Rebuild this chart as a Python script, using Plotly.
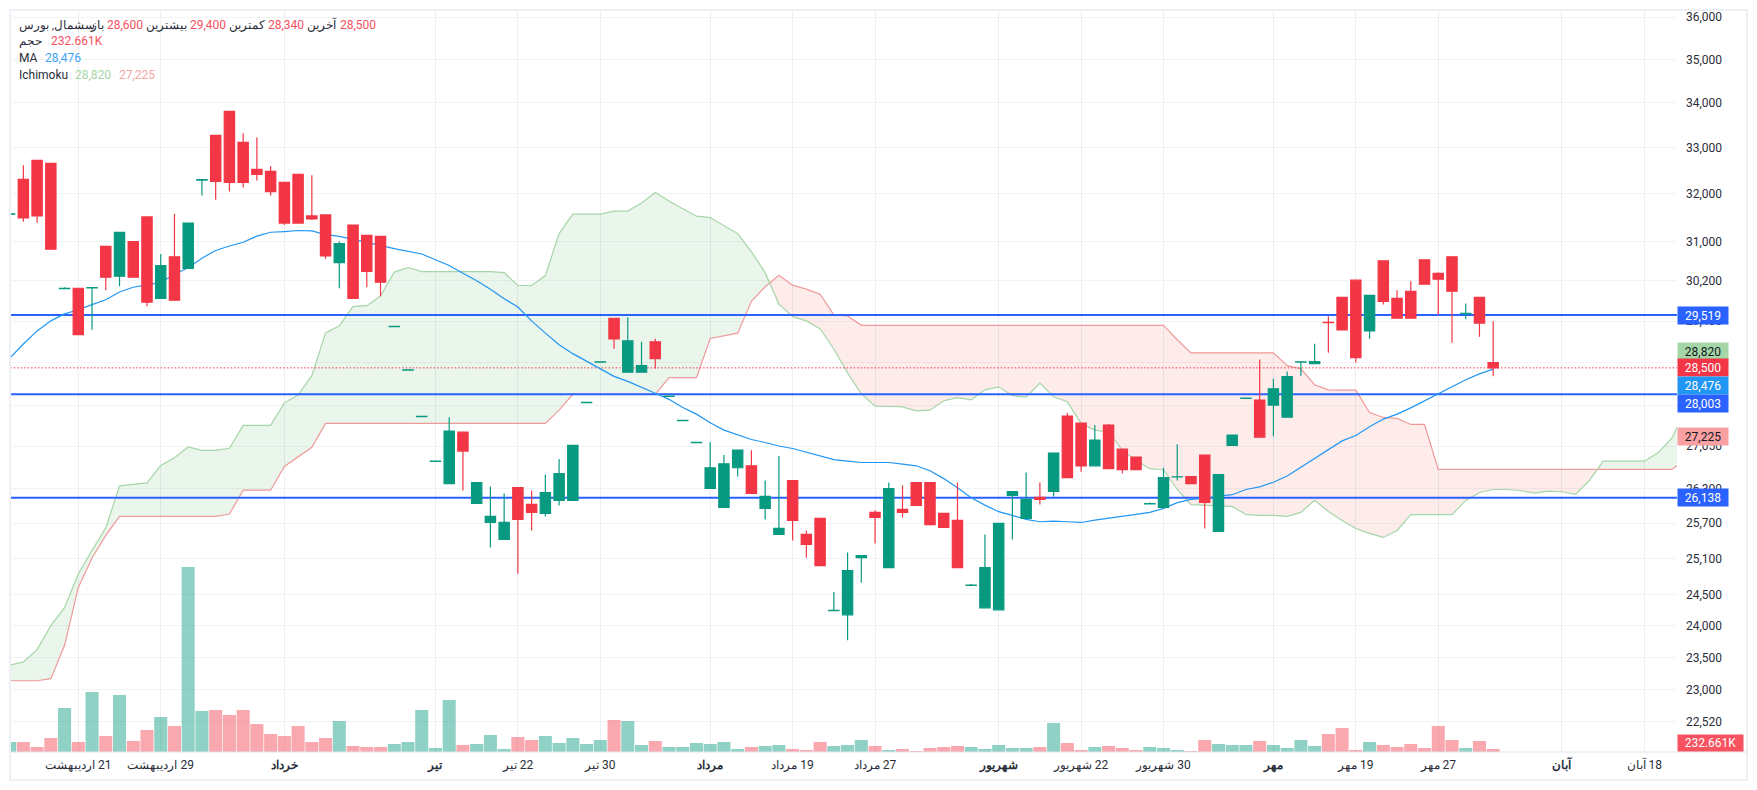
import math
import plotly.graph_objects as go

# ---------- price data ----------
opens = [31570,32310,32724,32659,30045,30051,30060,30902,30292,31000,31514,29848,30686,30450,32295,33273,33807,33115,32528,32485,32246,32420,31535,31556,30568,31342,31128,31107,29295,28458,27590,26780,26387,27306,26040,25712,25423,26317,26023,25868,26092,26092,27848,28610,29457,28417,28417,29000,27963,27517,27115,26300,25970,26666,26701,25953,25508,26440,25508,25781,24247,24178,25117,25885,24950,25936,26405,26405,25868,25747,24657,24291,24259,26178,25781,26144,26248,27600,27471,26701,27434,26998,26858,26033,25970,26502,26510,26893,25558,27068,27925,27895,27800,27580,28610,28581,29378,29868,30214,29210,30607,29848,29991,30627,30352,30686,29546,29868,28600]
highs = [31580,32615,32724,32659,30072,30051,30066,30902,31193,31000,31514,30744,31578,31385,32304,33273,33807,33320,33224,32593,32246,32420,32398,31556,31000,31342,31128,31107,29300,28463,27595,26785,27580,27306,26405,26335,26213,26317,26265,26545,26824,27068,27853,28615,29457,29476,29000,29057,27968,27522,27120,27123,26893,26980,26980,26440,26876,26440,25575,25781,24550,25202,25150,25920,26405,26352,26405,26405,25868,26405,24680,25508,25695,26248,26580,26405,26928,27654,27471,27434,27453,26998,26858,26057,26666,27085,26510,26893,26545,27251,27930,28657,28296,28429,28615,28962,29495,29868,30214,29909,30607,30011,30194,30627,30371,30686,29746,29868,29400]
lows = [31570,31413,31392,30843,30045,29139,29234,30011,30092,30273,29692,29848,29813,30450,31965,31878,32050,32137,32289,31965,31342,31385,31449,30646,30051,29848,30072,29890,29295,28458,27590,26780,26387,26265,26040,25287,25423,24850,25575,25816,26006,26092,27848,28610,28867,28417,28417,28490,27963,27517,27115,26300,25970,26510,26213,25764,25508,25406,25117,24983,24247,23771,24700,25355,24950,25799,26006,25660,25627,24950,24657,24291,24259,25423,25781,26023,26161,26492,26596,26701,26649,26562,26631,26033,25970,26440,26387,25610,25558,27068,27925,27215,27233,27580,28352,28581,28790,29229,28600,29057,29726,29457,29457,30133,29522,28981,29438,29095,28340]
closes = [31580,31490,31535,30843,30050,29139,30066,30273,31193,30273,29773,30509,29813,31385,32304,32267,32246,32246,32420,32050,31385,31385,31470,30705,30960,29848,30391,30174,29300,28463,27595,26785,27325,26963,26405,25816,25712,25764,25885,26230,26562,27068,27853,28615,29057,29019,28545,28676,27968,27522,27120,26666,26736,26980,26213,26161,25610,25747,25338,24983,24252,24900,25150,25799,26300,25885,26006,25676,25627,24950,24662,24950,25695,26248,26109,26109,26928,26492,26701,27160,26649,26631,26631,26038,26492,26507,26387,26057,26545,27251,27930,27215,28105,28333,28615,28619,29372,29229,28695,29909,29787,29457,29457,30133,30234,29991,29552,29362,28500]

# volume in thousands
volumes = [776,776,388,1086,3412,776,4653,1241,4420,853,1706,2714,2016,14347,3180,3257,2869,3257,2171,1396,1241,2016,776,1086,2404,465,388,388,620,776,3257,310,4033,543,620,1318,233,1163,931,1241,698,1086,620,931,2482,2404,543,853,388,388,698,620,776,233,388,465,543,233,155,776,465,543,931,465,155,233,78,310,388,465,388,233,543,310,310,388,2249,698,155,388,465,310,155,388,310,155,78,931,620,543,543,853,543,310,931,465,1396,1861,155,776,543,388,620,310,2016,931,310,853,232.661]

ma_values = [28682,28956,29210,29406,29543,29624,29726,29821,29976,30072,30119,30168,30332,30463,30660,30817,30908,30986,31113,31193,31208,31229,31220,31143,31107,31049,30986,30921,30856,30803,30744,30627,30509,30351,30200,30031,29842,29679,29406,29166,28943,28771,28625,28472,28339,28244,28137,28023,27909,27758,27635,27476,27343,27251,27173,27118,27055,27010,26945,26887,26811,26783,26759,26759,26759,26731,26701,26614,26474,26312,26139,26011,25897,25833,25764,25724,25735,25724,25712,25752,25781,25816,25851,25885,25954,26053,26110,26127,26167,26192,26283,26330,26410,26521,26678,26835,26997,27147,27246,27403,27544,27635,27751,27882,28023,28149,28276,28385,28476]

senkou_a = [23379,23432,23625,24005,24295,24850,25241,25622,26347,26370,26399,26706,26846,27038,26975,26975,27015,27429,27429,27429,27844,27990,28352,29172,29310,29691,29705,29895,30377,30469,30385,30385,30385,30385,30385,30385,30365,30106,30106,30306,31165,31571,31571,31571,31636,31636,31807,32028,31850,31685,31528,31499,31336,31165,30790,30365,29736,29488,29406,29253,28861,28404,28010,27782,27776,27769,27696,27709,27882,27939,27901,28086,28143,27977,27952,28213,27958,27863,27465,27343,27306,26980,26794,26649,26631,26283,26018,26006,25989,25989,25850,25833,25833,25816,25885,26093,25902,25747,25610,25525,25457,25576,25845,25845,25845,25845,26093,26231,26283,26283,26265,26219,26254,26243,26196,26440,26783,26783,26783,26783,26933,27196,27708]
senkou_b = [23140,23140,23140,23172,23692,24624,25112,25491,25816,25816,25816,25816,25816,25816,25816,25816,25856,26270,26270,26270,26689,26863,27032,27465,27465,27465,27465,27465,27465,27465,27465,27465,27465,27465,27465,27465,27465,27465,27465,27465,27709,28003,28003,28003,28003,28003,28003,28003,28314,28314,28314,29063,29114,29166,29793,30082,30312,30114,30033,29932,29522,29502,29318,29318,29318,29318,29318,29318,29318,29318,29318,29318,29318,29318,29318,29318,29318,29318,29318,29318,29318,29318,29318,29318,29318,29038,28785,28785,28785,28785,28785,28785,28785,28543,28480,28181,28086,28080,28080,27666,27574,27556,27446,27446,26637,26637,26637,26637,26637,26637,26637,26637,26637,26637,26637,26637,26637,26637,26637,26637,26637,26637,26806]

support_levels = [29519, 28003, 26138]
last_price = 28500

y_tick_vals = [36000,35000,34000,33000,32000,31000,30200,29400,28600,27800,27050,26300,25700,25100,24500,24000,23500,23000,22520]

x_tick_vals = [5,11,20,31,37,43,51,57,63,72,78,84,92,98,104,113,119]
x_tick_text = ["اردیبهشت\u200e 21","اردیبهشت\u200e 29","<b>خرداد</b>","<b>تیر</b>","تیر\u200e 22","تیر\u200e 30","<b>مرداد</b>","مرداد\u200e 19","مرداد\u200e 27","<b>شهریور</b>","شهریور\u200e 22","شهریور\u200e 30","<b>مهر</b>","مهر\u200e 19","مهر\u200e 27","<b>آبان</b>","آبان\u200e 18"]

# ---------- style ----------
RED, GREEN, BLUE, MA_BLUE = "#F23645", "#089981", "#2962FF", "#2196F3"
CLOUD_G, CLOUD_R = "#A5D6A7", "#EF9A9A"
GRID_X, GRID_Y, FRAME = "#EDEEF2", "#F2F3F5", "#EEF0F6"
TXT = "#2A2E39"
FONT = "Roboto, 'Noto Sans', sans-serif"

X_RANGE = [0.1, 121.38]
Y_LO, Y_HI = math.log10(22068), math.log10(36144)
VOL_TOP = 57465
L, R, T, B, W, H = 11, 80, 11, 38, 1757, 790
PW, PH = W - L - R, H - T - B


def yfrac(v):
    return (math.log10(v) - Y_LO) / (Y_HI - Y_LO)


def cloud_polys(a, b):
    """Split the cloud into polygons where a>b and where b>a."""
    polys, seg_x, seg_a, seg_b = [], [], [], []
    sign = None
    for i, (va, vb) in enumerate(zip(a, b)):
        s = va >= vb
        if sign is not None and s != sign:
            d0 = math.log(a[i - 1] / b[i - 1])
            d1 = math.log(va / vb)
            t = d0 / (d0 - d1)
            xc = i - 1 + t
            yc = a[i - 1] * (va / a[i - 1]) ** t
            seg_x.append(xc); seg_a.append(yc); seg_b.append(yc)
            polys.append((sign, seg_x, seg_a, seg_b))
            seg_x, seg_a, seg_b = [xc], [yc], [yc]
        seg_x.append(i); seg_a.append(va); seg_b.append(vb)
        sign = s
    polys.append((sign, seg_x, seg_a, seg_b))
    return polys


fig = go.Figure()

for up, xs, aa, bb in cloud_polys(senkou_a, senkou_b):
    fig.add_trace(go.Scatter(
        x=xs + xs[::-1], y=aa + bb[::-1], mode="lines", line=dict(width=0),
        fill="toself",
        fillcolor="rgba(67,160,71,0.11)" if up else "rgba(244,67,54,0.10)",
        hoverinfo="skip"))

cloud_x = list(range(len(senkou_a)))
fig.add_trace(go.Scatter(x=cloud_x, y=senkou_b, mode="lines", line=dict(color=CLOUD_R, width=1.2)))
fig.add_trace(go.Scatter(x=cloud_x, y=senkou_a, mode="lines", line=dict(color=CLOUD_G, width=1.2)))

for lvl in support_levels:
    fig.add_trace(go.Scatter(x=[-2, 125], y=[lvl, lvl], mode="lines", line=dict(color=BLUE, width=2)))
fig.add_trace(go.Scatter(x=[-2, 125], y=[last_price, last_price], mode="lines",
                         line=dict(color=RED, width=1, dash="1.5px 2px")))

bar_x = list(range(len(closes)))
fig.add_trace(go.Scatter(x=bar_x, y=ma_values, mode="lines", line=dict(color=MA_BLUE, width=1.2)))

vol_colors = ["rgba(8,153,129,0.45)" if c >= o else "rgba(242,54,69,0.43)" for o, c in zip(opens, closes)]
fig.add_trace(go.Bar(x=bar_x, y=volumes, marker=dict(color=vol_colors, line=dict(width=0)), yaxis="y2"))

fig.add_trace(go.Candlestick(
    x=bar_x, open=opens, high=highs, low=lows, close=closes, yaxis="y3", whiskerwidth=0,
    increasing=dict(line=dict(color=GREEN, width=1.2), fillcolor=GREEN),
    decreasing=dict(line=dict(color=RED, width=1.2), fillcolor=RED)))

# legend texts: (px position, text, anchor, colour, size)
LEG_R = "#F7525F"
legend_items = [
    (18, 25, "سشمال, بورس", "left", TXT, 11.5),
    (105, 25, "باز", "right", TXT, 12), (106, 25, "28,600", "left", LEG_R, 12),
    (188, 25, "بیشترین", "right", TXT, 12), (189, 25, "29,400", "left", LEG_R, 12),
    (266, 25, "کمترین", "right", TXT, 12), (267, 25, "28,340", "left", LEG_R, 12),
    (338, 25, "آخرین", "right", TXT, 12), (339, 25, "28,500", "left", LEG_R, 12),
    (18, 41, "حجم", "left", TXT, 12), (50, 41, "232.661K", "left", LEG_R, 12),
    (18, 58, "MA", "left", TXT, 12), (44, 58, "28,476", "left", "#42A5F5", 12),
    (18, 75, "Ichimoku", "left", TXT, 12), (74, 75, "28,820", "left", "#A5D6A7", 12), (118, 75, "27,225", "left", "#F5A6A6", 12),
]
annotations = []
for px, py, text, anc, col, size in legend_items:
    annotations.append(dict(xref="paper", yref="paper", x=(px - L) / PW, y=(H - B - py) / PH,
                            text=text, showarrow=False, xanchor=anc, yanchor="middle",
                            borderpad=0, font=dict(family=FONT, size=size, color=col)))

# price tags: (value, label, background, text colour, vertical shift in px)
price_tags = [
    (29519, "29,519", BLUE, "#FFFFFF", 0),
    (28820, "28,820", "#A5D6A7", "#131722", 0),
    (28500, "28,500", RED, "#FFFFFF", 0),
    (28476, "28,476", MA_BLUE, "#FFFFFF", -16),
    (28003, "28,003", BLUE, "#FFFFFF", -9),
    (27225, "27,225", "#F9A0A3", "#131722", 0),
    (26138, "26,138", BLUE, "#FFFFFF", 0),
]
for val, lab, bg, fc, shift in price_tags:
    annotations.append(dict(xref="paper", yref="paper", x=1, y=yfrac(val), yshift=shift, text=lab,
                            showarrow=False, xanchor="left", yanchor="middle", align="center",
                            width=50, height=17, borderpad=0, bgcolor=bg,
                            font=dict(family=FONT, size=12, color=fc)))
annotations.append(dict(xref="paper", yref="paper", x=1, y=0, text="232.661K", showarrow=False,
                        xanchor="left", yanchor="bottom", align="center", width=65, height=16,
                        borderpad=0, bgcolor="#F7525F", font=dict(family=FONT, size=12, color="#FFFFFF")))

shapes = [
    dict(type="rect", xref="paper", yref="paper", x0=(10 - L) / PW, x1=(1747 - L) / PW,
         y0=(H - B - 780) / PH, y1=(H - B - 10) / PH, line=dict(color=FRAME, width=2), fillcolor="rgba(0,0,0,0)"),
    dict(type="line", xref="paper", yref="paper", x0=0, x1=(1747 - L) / PW, y0=0, y1=0,
         line=dict(color="#E0E3EB", width=1)),
]

fig.update_layout(
    width=W, height=H, margin=dict(l=L, r=R, t=T, b=B), showlegend=False,
    paper_bgcolor="#FFFFFF", plot_bgcolor="#FFFFFF", bargap=0.05, boxgap=0.25, boxgroupgap=0,
    font=dict(family=FONT, size=12, color=TXT), annotations=annotations, shapes=shapes,
    xaxis=dict(range=X_RANGE, tickmode="array", tickvals=x_tick_vals, ticktext=x_tick_text, tickangle=0,
               showgrid=True, gridcolor=GRID_X, gridwidth=1, zeroline=False, showline=False, ticks="",
               rangeslider=dict(visible=False), tickfont=dict(family=FONT, size=12, color=TXT), ticklabelstandoff=4),
    yaxis=dict(type="log", range=[Y_LO, Y_HI], side="right", tickmode="array", tickvals=y_tick_vals,
               ticktext=[f"{v:,}" for v in y_tick_vals], showgrid=True, gridcolor=GRID_Y, gridwidth=1,
               zeroline=False, ticks="", showline=False, ticklabelstandoff=8,
               tickfont=dict(family=FONT, size=12, color=TXT)),
    yaxis2=dict(overlaying="y", range=[0, VOL_TOP], visible=False, showgrid=False, zeroline=False),
    yaxis3=dict(overlaying="y", type="log", range=[Y_LO, Y_HI], visible=False, showgrid=False, zeroline=False),
)

fig.write_html("out.html", config={"displayModeBar": False}, post_script="document.body.style.margin='0';")
